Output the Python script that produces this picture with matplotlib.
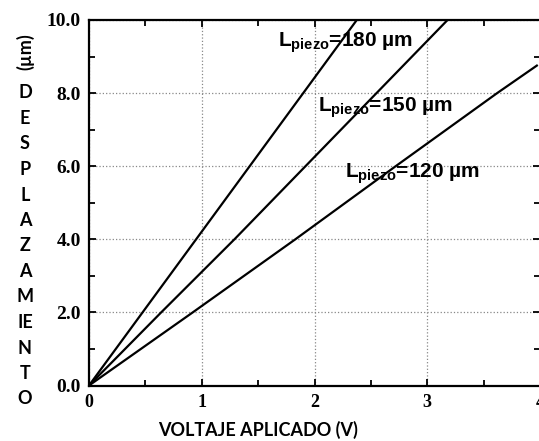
import matplotlib
matplotlib.use('Agg')
import matplotlib.pyplot as plt
from matplotlib.ticker import MultipleLocator, FormatStrFormatter

# valores (desplazamiento vs voltaje)
v_180 = [0.0, 0.475, 0.95, 1.425, 1.90, 2.375]
d_180 = [0.0, 2.0, 4.0, 6.0, 8.0, 10.0]
v_150 = [0.0, 0.64, 1.29, 1.92, 2.55, 3.18]
d_150 = [0.0, 2.0, 4.0, 6.0, 8.0, 10.0]
v_120 = [0.0, 0.92, 1.83, 2.72, 3.62, 3.98]
d_120 = [0.0, 2.0, 4.0, 6.0, 8.0, 8.77]

etiquetas = ['180', '150', '120']
pos_etiquetas = [(1.676, 9.26), (2.03, 7.48), (2.27, 5.68)]
letras_y = ['D', 'E', 'S', 'P', 'L', 'A', 'Z', 'A', 'M', 'IE', 'N', 'T', 'O']

plt.rcParams['mathtext.fontset'] = 'custom'
plt.rcParams['mathtext.rm'] = 'Liberation Sans:bold'
plt.rcParams['mathtext.it'] = 'Liberation Sans:bold'
plt.rcParams['mathtext.bf'] = 'Liberation Sans:bold'

W, H = 539, 441
fig = plt.figure(figsize=(W / 100, H / 100), dpi=100)
ax = fig.add_axes([89 / W, (H - 385.5) / H, (540 - 89) / W, (385.5 - 20) / H])

for v, d in [(v_180, d_180), (v_150, d_150), (v_120, d_120)]:
    ax.plot(v, d, color='black', lw=1.6, solid_capstyle='butt')

ax.set_xlim(0, 4)
ax.set_ylim(0, 10)
ax.xaxis.set_major_locator(MultipleLocator(1))
ax.xaxis.set_minor_locator(MultipleLocator(0.5))
ax.yaxis.set_major_locator(MultipleLocator(2))
ax.yaxis.set_minor_locator(MultipleLocator(1))
ax.yaxis.set_major_formatter(FormatStrFormatter('%.1f'))
ax.tick_params(which='both', direction='in', top=True, right=True,
               width=1.3, color='black')
ax.tick_params(which='major', length=5)
ax.tick_params(which='minor', length=4)
ax.tick_params(axis='y', pad=6)
ax.tick_params(axis='x', pad=6)
for lab in ax.get_yticklabels():
    lab.set_fontfamily('Liberation Serif')
    lab.set_fontweight('bold')
    lab.set_fontsize(14)
for lab in ax.get_xticklabels():
    lab.set_fontfamily('Liberation Serif')
    lab.set_fontweight('bold')
    lab.set_fontsize(13)
for s in ax.spines.values():
    s.set_linewidth(1.6)

ax.grid(True, which='major', linestyle=':', color='#888888', linewidth=0.9)

for lab, (x, y) in zip(etiquetas, pos_etiquetas):
    ax.text(x, y, 'L$_{\\rm piezo}$=' + lab + ' µm', fontsize=15,
            fontfamily='Liberation Sans', fontweight='bold',
            ha='left', va='baseline')

# etiqueta eje x
fig.text(258 / W, 1 - 430 / H, 'VOLTAJE APLICADO (V)', fontfamily='Lato',
         fontweight='bold', fontsize=13, ha='center', va='center')

# etiqueta eje y, letras apiladas
fig.text(25 / W, 1 - 52 / H, '(µm)', fontfamily='Lato', fontweight='bold',
         fontsize=13, rotation=90, ha='center', va='center')
for i, letra in enumerate(letras_y):
    yy = 93 + i * 25.5
    fig.text(25 / W, 1 - yy / H, letra, fontfamily='Lato', fontweight='bold',
             fontsize=13, ha='center', va='center')

fig.savefig('out.png', dpi=100)
